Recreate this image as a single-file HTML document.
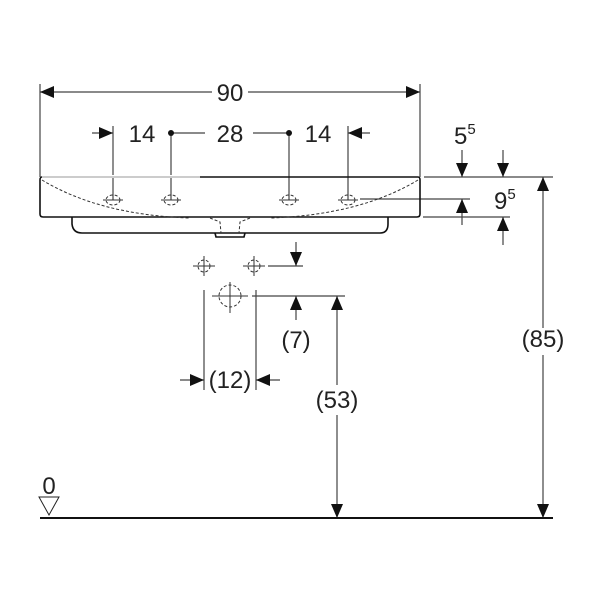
<!DOCTYPE html>
<html><head><style>body{margin:0;background:#fff}svg{display:block}text{font-family:"Liberation Sans",Arial,sans-serif;fill:#222}</style></head>
<body>
<svg width="603" height="603" viewBox="0 0 603 603" xmlns="http://www.w3.org/2000/svg">
<defs>
<marker id="a" markerWidth="14" markerHeight="12" refX="14" refY="6" orient="auto" markerUnits="userSpaceOnUse" viewBox="0 0 14 12"><path d="M0,0 L14,6 L0,12 z" fill="#111"/></marker>
</defs>
<g stroke="#444" stroke-width="1.2" fill="none">
<line x1="40" y1="84" x2="40" y2="177"/><line x1="420" y1="84" x2="420" y2="177"/>
<line x1="212" y1="92" x2="40" y2="92" marker-end="url(#a)"/>
<line x1="248" y1="92" x2="420" y2="92" marker-end="url(#a)"/>
<line x1="113" y1="126" x2="113" y2="200"/><line x1="171" y1="133" x2="171" y2="200"/>
<line x1="289" y1="133" x2="289" y2="200"/><line x1="348" y1="126" x2="348" y2="200"/>
<line x1="92" y1="133" x2="113" y2="133" marker-end="url(#a)"/>
<line x1="370" y1="133" x2="348" y2="133" marker-end="url(#a)"/>
<line x1="171" y1="133" x2="205" y2="133"/><line x1="253" y1="133" x2="289" y2="133"/>
<line x1="424" y1="177" x2="553" y2="177"/>
<line x1="360" y1="199" x2="470" y2="199"/>
<line x1="423" y1="217" x2="510" y2="217"/>
<line x1="462" y1="150" x2="462" y2="177" marker-end="url(#a)"/>
<line x1="503" y1="150" x2="503" y2="177" marker-end="url(#a)"/>
<line x1="462" y1="225" x2="462" y2="199" marker-end="url(#a)"/>
<line x1="503" y1="245" x2="503" y2="217" marker-end="url(#a)"/>
<line x1="543" y1="328" x2="543" y2="177" marker-end="url(#a)"/>
<line x1="543" y1="355" x2="543" y2="518" marker-end="url(#a)"/>
<line x1="268" y1="266" x2="303" y2="266"/>
<line x1="296" y1="242" x2="296" y2="266" marker-end="url(#a)"/>
<line x1="252" y1="296" x2="345" y2="296"/>
<line x1="296" y1="320" x2="296" y2="296" marker-end="url(#a)"/>
<line x1="337" y1="385" x2="337" y2="296" marker-end="url(#a)"/>
<line x1="337" y1="415" x2="337" y2="518" marker-end="url(#a)"/>
<line x1="204" y1="290" x2="204" y2="390"/><line x1="256" y1="290" x2="256" y2="390"/>
<line x1="180" y1="380" x2="204" y2="380" marker-end="url(#a)"/>
<line x1="280" y1="380" x2="256" y2="380" marker-end="url(#a)"/>
</g>
<g stroke="#111" stroke-width="1.6" fill="none">
<path d="M42,177 L418,177 Q420,177 420,180 L420,214 Q420,217 417,217 L43,217 Q40,217 40,214 L40,180 Q40,177 42,177 Z"/>
<path d="M72,217 L72,224 Q73,233 82,233 L380,233 Q388,233 388,224 L388,217"/>
<path d="M215,233 L216,237 L244,237 L245,233"/>
<line x1="40" y1="518" x2="553" y2="518" stroke-width="2"/>
</g>
<rect x="42" y="175" width="158" height="3" fill="#fff"/>
<line x1="42" y1="177" x2="200" y2="177" stroke="#999" stroke-width="1"/>
<g stroke="#333" stroke-width="1" fill="none" stroke-dasharray="3,2">
<path d="M42,180 Q100,215 190,218"/><path d="M418,180 Q360,215 270,218"/>
<path d="M210,218 L220,222 L221,233 M250,218 L240,222 L239,233"/>
<ellipse cx="113" cy="200" rx="7" ry="5"/><ellipse cx="171" cy="200" rx="7" ry="5"/>
<ellipse cx="289" cy="200" rx="7" ry="5"/><ellipse cx="348" cy="200" rx="7" ry="5"/>
<circle cx="204" cy="266" r="6"/><circle cx="254" cy="266" r="6"/>
<circle cx="230" cy="296" r="11"/>
</g>
<g stroke="#333" stroke-width="1">
<line x1="103" y1="200" x2="123" y2="200"/><line x1="161" y1="200" x2="181" y2="200"/>
<line x1="279" y1="200" x2="299" y2="200"/><line x1="338" y1="200" x2="358" y2="200"/>
<line x1="193" y1="266" x2="215" y2="266"/><line x1="204" y1="256" x2="204" y2="276"/>
<line x1="243" y1="266" x2="265" y2="266"/><line x1="254" y1="256" x2="254" y2="276"/>
<line x1="212" y1="296" x2="248" y2="296"/><line x1="230" y1="282" x2="230" y2="313"/>
</g>
<circle cx="171" cy="133" r="3" fill="#111"/><circle cx="289" cy="133" r="3" fill="#111"/>
<path d="M39,497 L59,497 L49,515 Z" fill="none" stroke="#222" stroke-width="1"/>
<g font-size="24">
<text x="230" y="101" text-anchor="middle">90</text>
<text x="142" y="142" text-anchor="middle">14</text>
<text x="230" y="142" text-anchor="middle">28</text>
<text x="318" y="142" text-anchor="middle">14</text>
<text x="454" y="144">5<tspan font-size="15" dy="-10">5</tspan></text>
<text x="494" y="209">9<tspan font-size="15" dy="-10">5</tspan></text>
<text x="543" y="347" text-anchor="middle">(85)</text>
<text x="296" y="348" text-anchor="middle">(7)</text>
<text x="230" y="388" text-anchor="middle">(12)</text>
<text x="337" y="408" text-anchor="middle">(53)</text>
<text x="49" y="494" text-anchor="middle">0</text>
</g>
</svg>
</body></html>
